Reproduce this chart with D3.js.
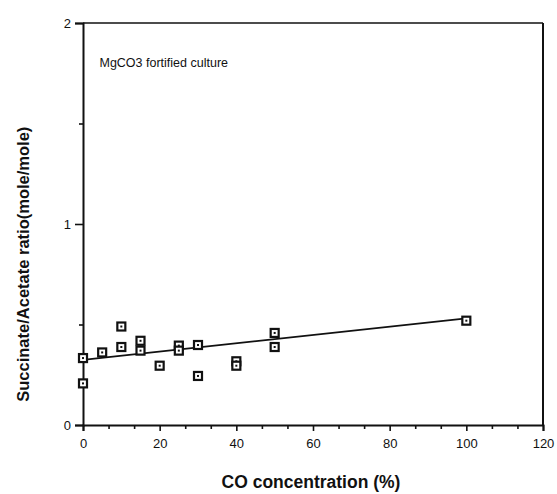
<!DOCTYPE html>
<html>
<head>
<meta charset="utf-8">
<script src="https://cdn.jsdelivr.net/npm/d3@7"></script>
<style>
  body { margin: 0; background: #fff; }
  svg text { font-family: "Liberation Sans", Arial, Helvetica, sans-serif; fill: #111; }
</style>
</head>
<body>
<div id="chart"></div>
<script>
// Data
const coConc = [0, 0, 5, 10, 10, 15, 15, 20, 25, 25, 30, 30, 40, 40, 50, 50, 100];
const ratio = [0.333, 0.207, 0.361, 0.49, 0.388, 0.419, 0.37, 0.295, 0.395, 0.37, 0.398, 0.244, 0.317, 0.295, 0.458, 0.388, 0.519];
const fitX = [0, 100];
const fitY = [0.324, 0.53];

const xTicks = [0, 20, 40, 60, 80, 100, 120];
const yTicks = [0, 1, 2];
const X_LABEL = "CO concentration (%)";
const Y_LABEL = "Succinate/Acetate ratio(mole/mole)";
const NOTE = "MgCO3 fortified culture";

const width = 557, height = 494;
const margin = {left: 83, right: 14, top: 23, bottom: 69};
const w = width - margin.left - margin.right;
const h = height - margin.top - margin.bottom;

const svg = d3.select("#chart").append("svg")
    .attr("width", width)
    .attr("height", height);

const g = svg.append("g")
    .attr("transform", `translate(${margin.left},${margin.top})`);

const x = d3.scaleLinear().domain([0, 120]).range([0, w]);
const y = d3.scaleLinear().domain([0, 2]).range([h, 0]);

// minor ticks (thirds on x, halves on y)
const xMinor = d3.range(0, 121, 20 / 3).filter(v => Math.abs(v / 20 - Math.round(v / 20)) > 0.01);
const yMinor = [0.5, 1.5];

g.append("g")
    .attr("transform", `translate(0,${h})`)
    .call(d3.axisBottom(x).tickValues(xTicks).tickSize(6).tickPadding(8).tickFormat(d3.format("d")));
g.append("g")
    .attr("transform", `translate(0,${h})`)
    .call(d3.axisBottom(x).tickValues(xMinor).tickSize(4).tickFormat(""))
    .select(".domain").remove();

g.append("g")
    .call(d3.axisLeft(y).tickValues(yTicks).tickSize(8).tickPadding(4).tickFormat(d3.format("d")));
g.append("g")
    .call(d3.axisLeft(y).tickValues(yMinor).tickSize(4).tickFormat(""))
    .select(".domain").remove();

g.selectAll(".domain").attr("stroke", "#111").attr("stroke-width", 2);
g.selectAll(".tick line").attr("stroke", "#111").attr("stroke-width", 1.6);
g.selectAll(".tick text").style("font-size", "13px");

// frame top and right
g.append("line")
    .attr("x1", 0).attr("x2", w).attr("y1", 0).attr("y2", 0)
    .attr("stroke", "#111").attr("stroke-width", 1.6);
g.append("line")
    .attr("x1", w).attr("x2", w).attr("y1", 0).attr("y2", h)
    .attr("stroke", "#111").attr("stroke-width", 2);

// fitted line
g.append("path")
    .datum(fitX.map((d, i) => ({x: d, y: fitY[i]})))
    .attr("d", d3.line().x(d => x(d.x)).y(d => y(d.y)))
    .attr("fill", "none")
    .attr("stroke", "#111")
    .attr("stroke-width", 1.8);

// square markers
const pts = coConc.map((d, i) => ({x: d, y: ratio[i]}));
const mk = g.selectAll(".pt").data(pts).enter().append("g")
    .attr("class", "pt")
    .attr("transform", d => `translate(${x(d.x)},${y(d.y)})`);
mk.append("rect")
    .attr("x", -4).attr("y", -4).attr("width", 8).attr("height", 8)
    .attr("fill", "#fff").attr("stroke", "#111").attr("stroke-width", 2.2);
mk.append("rect")
    .attr("x", -1).attr("y", -1).attr("width", 2).attr("height", 2)
    .attr("fill", "#111");

// annotation
g.append("text")
    .attr("x", x(4.3))
    .attr("y", y(1.8) + 4)
    .style("font-size", "12.5px")
    .text(NOTE);

// axis titles
svg.append("text")
    .attr("x", margin.left + x(60) - 2)
    .attr("y", 488)
    .attr("text-anchor", "middle")
    .style("font-size", "17.5px")
    .style("font-weight", "bold")
    .text(X_LABEL);

svg.append("text")
    .attr("transform", `translate(29,${margin.top + y(0.8)}) rotate(-90)`)
    .attr("text-anchor", "middle")
    .style("font-size", "16.5px")
    .style("font-weight", "bold")
    .text(Y_LABEL);
</script>
</body>
</html>
